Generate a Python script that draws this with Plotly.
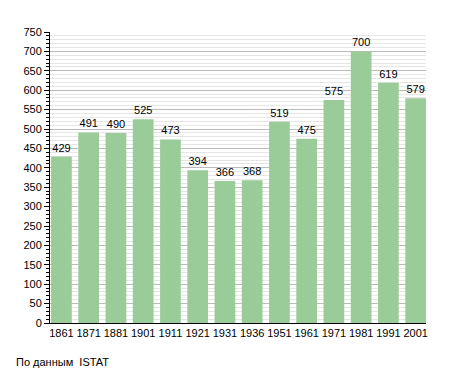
import plotly.graph_objects as go

years = ["1861", "1871", "1881", "1901", "1911", "1921", "1931", "1936",
         "1951", "1961", "1971", "1981", "1991", "2001"]
population = [429, 491, 490, 525, 473, 394, 366, 368, 519, 475, 575, 700, 619, 579]

FONT = "Liberation Sans, Arial, sans-serif"

fig = go.Figure()
fig.add_trace(go.Bar(
    x=years, y=population,
    marker=dict(color="#99cc99", line=dict(width=0)),
    width=0.76,
    text=[str(v) for v in population],
    textposition="outside",
    textfont=dict(family=FONT, size=11, color="#000000"),
    cliponaxis=False,
))

fig.update_layout(
    width=447, height=365,
    margin=dict(l=42, r=29, t=24, b=50),
    paper_bgcolor="white", plot_bgcolor="white",
    showlegend=False,
    font=dict(family=FONT, size=11, color="#000000"),
    xaxis=dict(
        type="category",
        range=[-0.42, 13.38],
        showgrid=False,
        showline=True, linecolor="#000000", linewidth=1,
        ticks="", tickfont=dict(family=FONT, size=11, color="#000000"),
        fixedrange=True,
    ),
    yaxis=dict(
        range=[0, 750],
        tickmode="linear", tick0=0, dtick=50,
        showgrid=True, gridcolor="#bbbbbb", gridwidth=1,
        showline=True, linecolor="#000000", linewidth=1,
        ticks="outside", ticklen=5, tickcolor="#000000",
        minor=dict(dtick=10, showgrid=True, gridcolor="#e6e6e6",
                   ticks="outside", ticklen=3, tickcolor="#000000"),
        tickfont=dict(family=FONT, size=11, color="#000000"),
        zeroline=False,
        fixedrange=True,
    ),
    bargap=0.24,
)

fig.add_annotation(
    text="По данным  ISTAT", xref="paper", yref="paper",
    x=-0.096, y=-0.134, xanchor="left", yanchor="middle",
    showarrow=False, font=dict(family=FONT, size=11, color="#000000"),
)

fig.write_html("out.html")
